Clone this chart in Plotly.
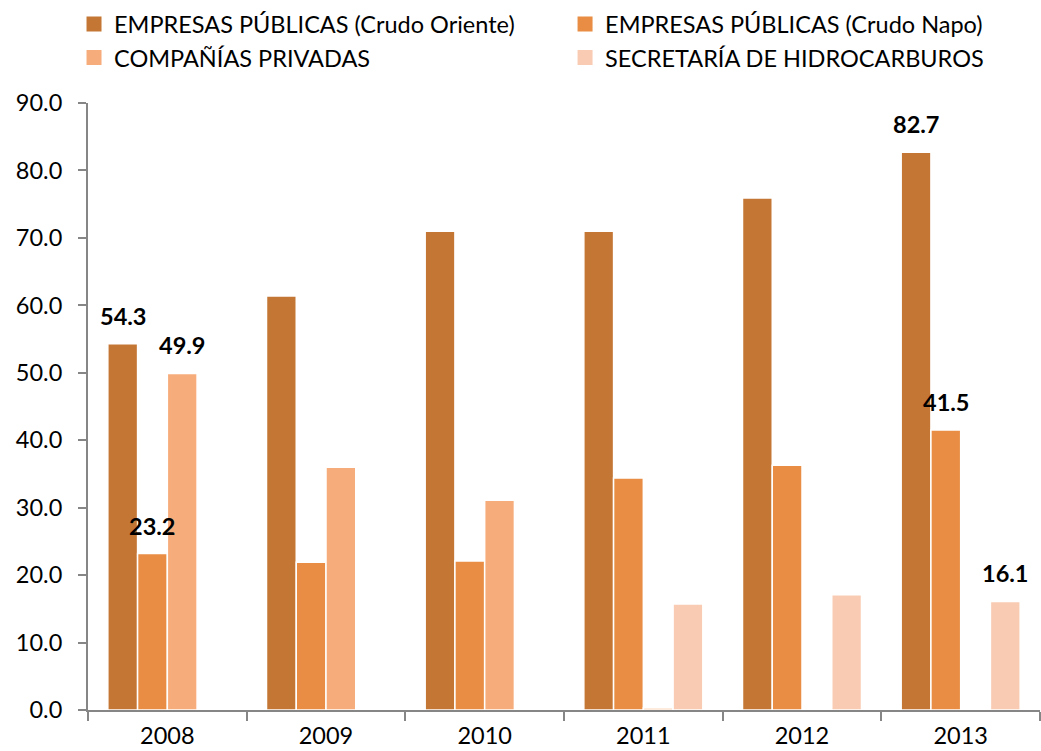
import plotly.graph_objects as go

years = ["2008", "2009", "2010", "2011", "2012", "2013"]
series_names = [
    "EMPRESAS PÚBLICAS (Crudo Oriente)",
    "EMPRESAS PÚBLICAS (Crudo Napo)",
    "COMPAÑÍAS PRIVADAS",
    "SECRETARÍA DE HIDROCARBUROS",
]
crudo_oriente = [54.3, 61.4, 71.0, 71.0, 75.9, 82.7]
crudo_napo = [23.2, 21.9, 22.1, 34.4, 36.3, 41.5]
privadas = [49.9, 36.0, 31.1, 0.3, 0.0, 0.0]
secretaria = [0.0, 0.0, 0.0, 15.7, 17.1, 16.1]
colors = ["#C47634", "#E88D43", "#F7AD7B", "#F8CBB2"]
legend_column = ["legend", "legend2", "legend", "legend2"]

# which points carry a visible data label
labeled = {
    0: ["2008", "2013"],
    1: ["2008", "2013"],
    2: ["2008"],
    3: ["2013"],
}

all_series = [crudo_oriente, crudo_napo, privadas, secretaria]
FONT = "Lato, Carlito, Calibri, sans-serif"
FS = 23.5

fig = go.Figure()
for name, vals, col in zip(series_names, all_series, colors):
    fig.add_trace(go.Bar(
        x=years, y=vals, name=name, showlegend=False,
        marker=dict(color=col, line=dict(color="white", width=1.5)),
        hoverinfo="skip",
    ))
# legend swatches (square markers like the reference)
for name, col, lg in zip(series_names, colors, legend_column):
    fig.add_trace(go.Scatter(
        x=[None], y=[None], mode="markers", name=name, legend=lg,
        marker=dict(symbol="square", size=15, color=col),
        hoverinfo="skip",
    ))

bargap = 0.25
plot_w = 1041 - 88 - 1
cat_w = plot_w / len(years)
bar_w = cat_w * (1 - bargap) / 4
annotations = []
for i, vals in enumerate(all_series):
    for yr in labeled[i]:
        j = years.index(yr)
        annotations.append(dict(
            x=j, y=vals[j], xref="x", yref="y",
            text=f"<b>{vals[j]:.1f}</b>", showarrow=False,
            xshift=(i - 1.5) * bar_w, yanchor="bottom", yshift=12,
            font=dict(family=FONT, size=FS, color="black"),
        ))

legend_common = dict(orientation="v", xref="container", yref="container",
                     xanchor="left", y=0.997, yanchor="top",
                     font=dict(family=FONT, size=FS), traceorder="normal",
                     bgcolor="rgba(0,0,0,0)")

fig.update_layout(
    width=1041, height=751,
    barmode="group", bargap=bargap, bargroupgap=0,
    plot_bgcolor="white", paper_bgcolor="white",
    margin=dict(l=88, r=1, t=103, b=41, autoexpand=False),
    font=dict(family=FONT, size=FS, color="black"),
    legend=dict(x=0.0711, **legend_common),
    legend2=dict(x=0.5428, **legend_common),
    annotations=annotations,
    xaxis=dict(type="category", showline=True, linecolor="#868686", linewidth=2,
               ticks="outside", tickson="boundaries", ticklen=9, tickwidth=2, tickcolor="#868686",
               ticklabelstandoff=4, automargin=False,
               tickfont=dict(family=FONT, size=FS)),
    yaxis=dict(range=[0, 90], dtick=10, tickformat=".1f",
               showline=True, linecolor="#868686", linewidth=2,
               ticks="outside", ticklen=8, tickwidth=2, tickcolor="#868686",
               showgrid=False, zeroline=False, ticklabelstandoff=11, automargin=False,
               tickfont=dict(family=FONT, size=FS)),
)

fig.write_html("out.html", config={"displayModeBar": False},
               post_script="document.body.style.margin='0';")
